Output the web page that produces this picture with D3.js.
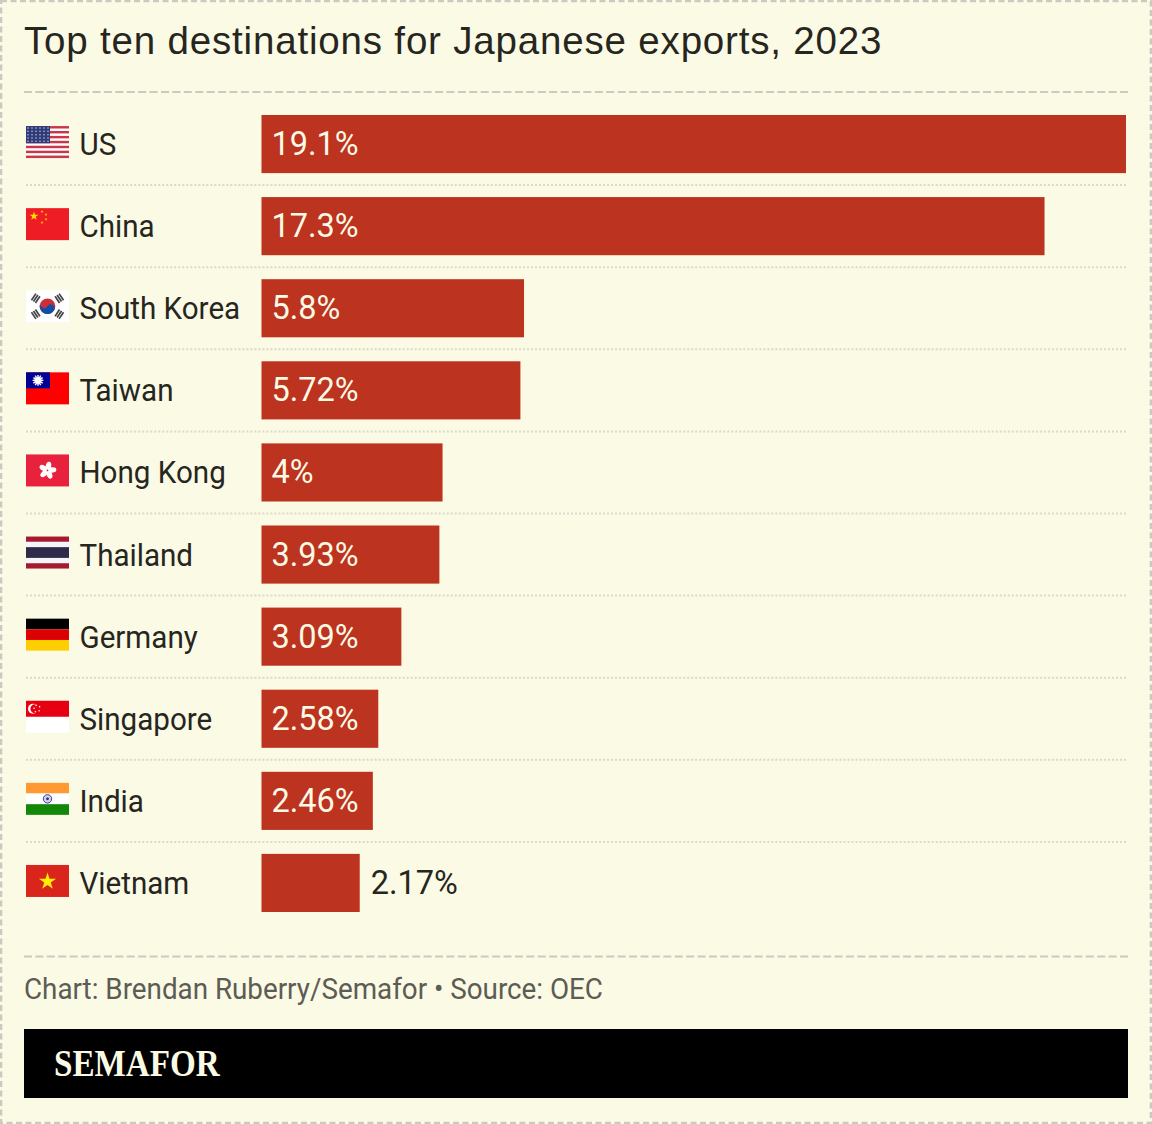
<!DOCTYPE html>
<html><head><meta charset="utf-8">
<script src="https://cdn.jsdelivr.net/npm/d3@7"></script>
<style>html,body{margin:0;padding:0;background:#fbfae5}svg{display:block}</style>
</head><body><svg id="c" width="1152" height="1124"></svg>
<script>
const countries = ["US","China","South Korea","Taiwan","Hong Kong","Thailand","Germany","Singapore","India","Vietnam"];
const shares = [19.1,17.3,5.8,5.72,4,3.93,3.09,2.58,2.46,2.17];
const shareLabels = ["19.1%","17.3%","5.8%","5.72%","4%","3.93%","3.09%","2.58%","2.46%","2.17%"];
const titleText = "Top ten destinations for Japanese exports, 2023";
const creditText = "Chart: Brendan Ruberry/Semafor • Source: OEC";
const brandText = "SEMAFOR";

const W=1152,H=1124, ink="#26261f", paper="#fbfae5", barColor="#bc3320", labelFont="Roboto, sans-serif";
const svg=d3.select("#c");
const x=d3.scaleLinear().domain([0,19.1]).range([261.5,1126]);
const y=d3.scaleBand().domain(countries).range([103,924]).paddingInner(0.292).paddingOuter(0.146);

svg.append("rect").attr("x",1).attr("y",1).attr("width",W-2).attr("height",H-2).attr("fill",paper)
  .attr("stroke","#cbcac0").attr("stroke-width",2.6).attr("stroke-dasharray","6 3.5");
svg.append("text").attr("x",24).attr("y",54).attr("font-family","Liberation Sans, Arial, sans-serif")
  .attr("font-size",38.5).attr("letter-spacing",0.82).attr("fill",ink).text(titleText);
const hr=(yy,x1,x2,dash,w,col)=>svg.append("line").attr("x1",x1).attr("x2",x2).attr("y1",yy).attr("y2",yy)
  .attr("stroke",col).attr("stroke-width",w).attr("stroke-dasharray",dash);
hr(92,24,1128,"8 3.417",2,"#cbcac0");
hr(956.5,24,1128,"8 3.417",2,"#cbcac0");
countries.slice(1).forEach(c=>hr(y(c)-12,26,1126,"2 2.0073",2,"#dad9cc"));

function star(cx,cy,r,rot=0){
  const pts=[];for(let i=0;i<10;i++){const a=-Math.PI/2+rot+i*Math.PI/5,q=i%2?r*0.382:r;pts.push([cx+q*Math.cos(a),cy+q*Math.sin(a)]);}
  return "M"+pts.map(p=>p.join(",")).join("L")+"Z";
}
const flagDraw={
  "US":g=>{
    g.append("rect").attr("width",43).attr("height",32).attr("fill","#fff");
    d3.range(7).forEach(i=>g.append("rect").attr("y",i*32/13*2).attr("width",43).attr("height",32/13).attr("fill","#c8384a"));
    g.append("rect").attr("width",24).attr("height",17.2).attr("fill","#2f3a78");
    d3.range(5).forEach(r=>d3.range(6).forEach(c=>g.append("circle").attr("cx",2+c*4).attr("cy",2+r*3.3).attr("r",.75).attr("fill","#c9cde0")));
  },
  "China":g=>{
    g.append("rect").attr("width",43).attr("height",32).attr("fill","#ee1c25");
    g.append("path").attr("d",star(8,8,4.6)).attr("fill","#ffde00");
    [[16,3.5],[20,6.5],[20,11],[16,14.5]].forEach(p=>g.append("path").attr("d",star(p[0],p[1],1.5,.5)).attr("fill","#ffde00"));
  },
  "South Korea":g=>{
    g.append("rect").attr("width",43).attr("height",32).attr("fill","#fff");
    const bars=a=>{const t=g.append("g").attr("transform",`translate(21.5,16) rotate(${a})`);
      d3.range(3).forEach(i=>t.append("rect").attr("x",-4).attr("y",-17.5+i*2.4).attr("width",8).attr("height",1.7).attr("fill","#444"));};
    [-56,56,124,-124].forEach(bars);
    g.append("circle").attr("cx",21.5).attr("cy",16).attr("r",7.8).attr("fill","#cd2e3a");
    g.append("path").attr("d","M15.03,11.64 A3.9,3.9 0 0 0 21.5,16 A3.9,3.9 0 0 1 27.97,20.36 A7.8,7.8 0 0 1 15.03,11.64Z").attr("fill","#0f4fa8");
  },
  "Taiwan":g=>{
    g.append("rect").attr("width",43).attr("height",32).attr("fill","#fe0000");
    g.append("rect").attr("width",24).attr("height",16).attr("fill","#000095");
    d3.range(12).forEach(i=>{const a=i*Math.PI/6;
      g.append("line").attr("x1",12).attr("y1",8).attr("x2",12+5.4*Math.cos(a)).attr("y2",8+5.4*Math.sin(a)).attr("stroke","#fff").attr("stroke-width",1.4);});
    g.append("circle").attr("cx",12).attr("cy",8).attr("r",3.4).attr("fill","#fff");
  },
  "Hong Kong":g=>{
    g.append("rect").attr("width",43).attr("height",32).attr("fill","#e8213d");
    d3.range(5).forEach(i=>g.append("ellipse").attr("cx",21.5).attr("cy",11.6).attr("rx",2.7).attr("ry",4.5)
      .attr("transform",`rotate(${i*72+12} 21.5 16)`).attr("fill","#fff"));
    g.append("circle").attr("cx",21.5).attr("cy",16).attr("r",.9).attr("fill","#e8213d");
  },
  "Thailand":g=>{
    [["#a51931",0,5.3],["#f4f5f8",5.3,5.3],["#2d2a4a",10.6,10.8],["#f4f5f8",21.4,5.3],["#a51931",26.7,5.3]]
      .forEach(s=>g.append("rect").attr("y",s[1]).attr("width",43).attr("height",s[2]).attr("fill",s[0]));
  },
  "Germany":g=>{
    ["#000","#dd0000","#ffce00"].forEach((c,i)=>g.append("rect").attr("y",i*32/3).attr("width",43).attr("height",32/3).attr("fill",c));
  },
  "Singapore":g=>{
    g.append("rect").attr("width",43).attr("height",32).attr("fill","#fff");
    g.append("rect").attr("width",43).attr("height",16).attr("fill","#e60012");
    g.append("circle").attr("cx",7).attr("cy",8).attr("r",5).attr("fill","#fff");
    g.append("circle").attr("cx",9).attr("cy",8).attr("r",4.6).attr("fill","#e60012");
    [[9.5,4.6],[13,6],[12.5,10],[8.8,11],[7.5,7.5]].forEach(p=>g.append("circle").attr("cx",p[0]+.6).attr("cy",p[1]).attr("r",.8).attr("fill","#fff"));
  },
  "India":g=>{
    ["#ff9933","#fff","#138808"].forEach((c,i)=>g.append("rect").attr("y",i*32/3).attr("width",43).attr("height",32/3).attr("fill",c));
    g.append("circle").attr("cx",21.5).attr("cy",16).attr("r",4.2).attr("fill","#cfd0ea").attr("stroke","#2a2a8c").attr("stroke-width",.9);
    g.append("circle").attr("cx",21.5).attr("cy",16).attr("r",1.4).attr("fill","#2a2a8c");
  },
  "Vietnam":g=>{
    g.append("rect").attr("width",43).attr("height",32).attr("fill","#da251d");
    g.append("path").attr("d",star(21.5,16.5,9)).attr("fill","#ffee00");
  }
};

const rows=svg.selectAll("g.row").data(countries).join("g").attr("class","row");
rows.append("rect").attr("x",x(0)).attr("y",d=>y(d)).attr("width",(d,i)=>x(shares[i])-x(0)).attr("height",y.bandwidth()).attr("fill",barColor);
rows.each(function(d){
  d3.select(this).append("g").attr("transform",`translate(26,${y(d)+y.bandwidth()/2-18})`).call(flagDraw[d]);
});
rows.append("text").attr("transform",d=>`translate(79.5,${y(d)+y.bandwidth()/2+11}) scale(0.925,1)`)
  .attr("font-family",labelFont).attr("font-size",32).attr("fill",ink).text(d=>d);
rows.append("text").attr("x",(d,i)=>i===9?x(shares[i])+11:x(0)+10).attr("y",d=>y(d)+y.bandwidth()/2+11)
  .attr("font-family",labelFont).attr("font-size",32.5)
  .attr("fill",(d,i)=>i===9?ink:paper).text((d,i)=>shareLabels[i]);

svg.append("text").attr("transform","translate(24,998.5) scale(0.927,1)").attr("font-family",labelFont).attr("font-size",30).attr("fill","#5c5c54").text(creditText);
svg.append("rect").attr("x",24).attr("y",1029).attr("width",1104).attr("height",69).attr("fill","#000");
svg.append("text").attr("transform","translate(54,1076) scale(0.85,1)").attr("font-family","Liberation Serif, serif").attr("font-weight",700)
  .attr("font-size",39).attr("fill",paper).text(brandText);
</script></body></html>
